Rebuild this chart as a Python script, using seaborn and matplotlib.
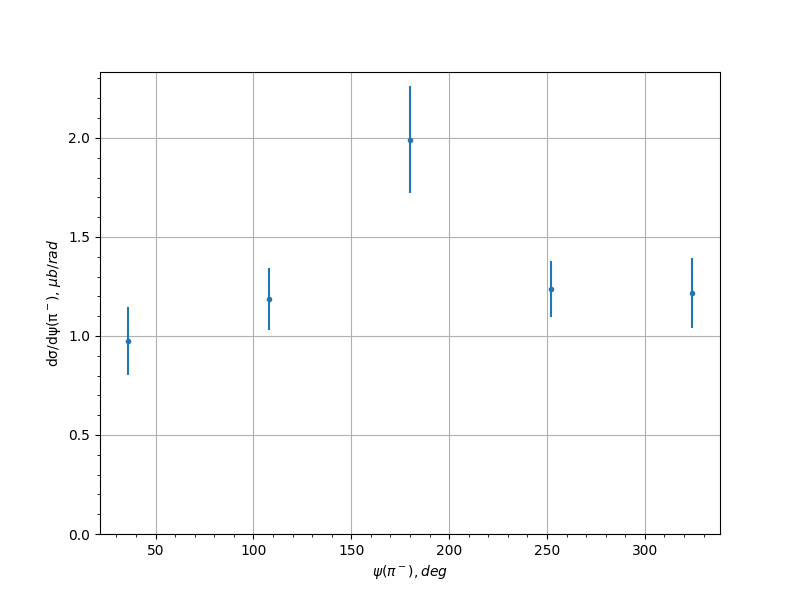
import numpy as np
import pandas as pd
import matplotlib
matplotlib.use("Agg")
import matplotlib.pyplot as plt
import seaborn as sns

# ----------------------------
# Data
# ----------------------------
psi_deg = [36, 108, 180, 252, 324]
dsigma = [0.975, 1.187, 1.99, 1.237, 1.217]
dsigma_err = [0.17, 0.155, 0.27, 0.14, 0.175]

df = pd.DataFrame({"psi": psi_deg, "val": dsigma, "err": dsigma_err})

# ----------------------------
# Plot
# ----------------------------
fig, ax = plt.subplots(figsize=(8, 6), dpi=100)

ax.errorbar(df["psi"], df["val"], yerr=df["err"], fmt="none", ecolor="C0")
sns.scatterplot(x="psi", y="val", data=df, marker=".", s=36,
                color="C0", edgecolor="C0", linewidth=1, ax=ax, zorder=3)

ax.set_ylim(bottom=0)
ax.minorticks_on()
ax.grid(True, which="major")
ax.set_xlabel(r"$\psi(\pi^-), deg$")
ax.set_ylabel(r"dσ/dψ(π$^-$), $\mu b/rad$")

plt.savefig("out.png")
plt.close()
